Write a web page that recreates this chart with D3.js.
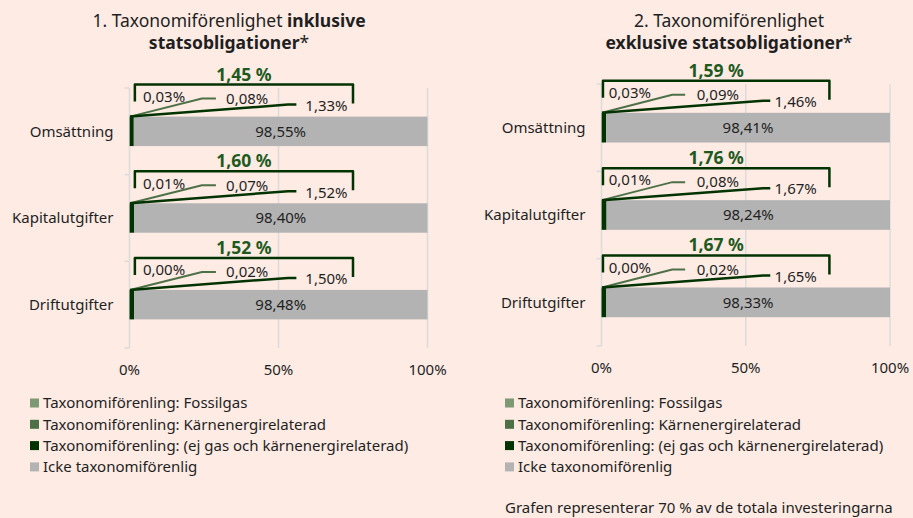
<!DOCTYPE html>
<html>
<head>
<meta charset="utf-8">
<script src="https://cdn.jsdelivr.net/npm/d3@7"></script>
<style>
  body { margin: 0; background: #fdebe4; }
  svg { display: block; font-family: "Noto Sans", sans-serif; }
</style>
</head>
<body>
<div id="chart"></div>
<script>
// Data (percent values)
const categories = ["Omsättning", "Kapitalutgifter", "Driftutgifter"];
const xTicks = [0, 50, 100];

const fossilIncl = [0.03, 0.01, 0.00];
const nuclearIncl = [0.08, 0.07, 0.02];
const otherIncl = [1.33, 1.52, 1.50];
const notAlignedIncl = [98.55, 98.40, 98.48];
const totalIncl = [1.45, 1.60, 1.52];

const fossilExcl = [0.03, 0.01, 0.00];
const nuclearExcl = [0.09, 0.08, 0.02];
const otherExcl = [1.46, 1.67, 1.65];
const notAlignedExcl = [98.41, 98.24, 98.33];
const totalExcl = [1.59, 1.76, 1.67];

const seriesKeys = ["fossil", "nuclear", "other", "notAligned"];
const seriesNames = [
  "Taxonomiförenling: Fossilgas",
  "Taxonomiförenling: Kärnenergirelaterad",
  "Taxonomiförenling: (ej gas och kärnenergirelaterad)",
  "Icke taxonomiförenlig"
];
const colors = ["#7f9874", "#4d7047", "#003300", "#b3b3b3"];
const footnote = "Grafen representerar 70 % av de totala investeringarna";

const width = 913, height = 518;
const textColor = "#1f1f1f";
const fmt = v => v.toFixed(2).replace(".", ",");

const svg = d3.select("#chart").append("svg")
  .attr("width", width)
  .attr("height", height);

svg.append("rect").attr("width", width).attr("height", height).attr("fill", "#fdebe4");

function buildRows(fossil, nuclear, other, notAligned, total) {
  return categories.map((c, i) => ({
    category: c, fossil: fossil[i], nuclear: nuclear[i], other: other[i],
    notAligned: notAligned[i], total: total[i]
  }));
}

function drawPanel(rows, opt) {
  const g = svg.append("g");
  const x = d3.scaleLinear().domain([0, 100]).range(opt.xRange);
  const y = d3.scaleBand().domain(categories).range(opt.yRange)
    .paddingInner(0.66).paddingOuter(0.33);

  // title
  const title = g.append("text")
    .attr("text-anchor", "middle")
    .attr("fill", textColor)
    .style("font-size", "17.5px");
  opt.title.forEach((line, li) => {
    const t = title.append("tspan").attr("x", opt.titleX).attr("y", 27 + li * 22);
    line.forEach(part => {
      t.append("tspan").attr("font-weight", part.bold ? "bold" : "normal").text(part.text);
    });
  });

  // gridlines
  g.selectAll(".grid").data(xTicks).join("line")
    .attr("x1", d => x(d)).attr("x2", d => x(d))
    .attr("y1", opt.yRange[0]).attr("y2", opt.yRange[1])
    .attr("stroke", "#dcdcdc").attr("stroke-width", 1.5);

  // category axis ticks at band boundaries
  const bounds = d3.range(categories.length + 1).map(i => opt.yRange[0] + i * y.step());
  g.selectAll(".ytick").data(bounds).join("line")
    .attr("x1", x(0) - 5).attr("x2", x(0))
    .attr("y1", d => d).attr("y2", d => d)
    .attr("stroke", "#dcdcdc").attr("stroke-width", 1.5);

  // x tick labels
  g.selectAll(".xlab").data(xTicks).join("text")
    .attr("x", d => x(d)).attr("y", opt.yRange[1] + 27)
    .attr("text-anchor", "middle")
    .attr("fill", textColor)
    .style("font-size", "15px")
    .text(d => d + "%");

  // category labels
  g.selectAll(".ylab").data(categories).join("text")
    .attr("x", x(0) - 16)
    .attr("y", d => y(d) + y.bandwidth() / 2)
    .attr("dy", "0.35em")
    .attr("text-anchor", "end")
    .attr("fill", textColor)
    .style("font-size", "15px")
    .text(d => d);

  // stacked bars
  const stacked = d3.stack().keys(seriesKeys)(rows);
  stacked.forEach((layer, k) => {
    g.append("g").attr("fill", colors[k])
      .selectAll("rect").data(layer).join("rect")
      .attr("x", d => x(d[0]))
      .attr("y", d => y(d.data.category))
      .attr("width", d => Math.max(0, x(d[1]) - x(d[0])))
      .attr("height", y.bandwidth());
  });

  // value labels in the grey segment
  const grey = stacked[3];
  g.selectAll(".vlab").data(grey).join("text")
    .attr("x", d => (x(d[0]) + x(d[1])) / 2)
    .attr("y", d => y(d.data.category) + y.bandwidth() / 2)
    .attr("dy", "0.35em")
    .attr("text-anchor", "middle")
    .attr("fill", textColor)
    .style("font-size", "15px")
    .text(d => fmt(d.data.notAligned) + "%");

  // callouts for the small green segments
  const L = opt.labels;
  rows.forEach(r => {
    const top = y(r.category);
    const x0 = x(0) + 0.5;

    // leader lines
    g.append("path")
      .attr("d", `M${x0},${top} L${x(L.midElbow)},${top - 18} L${x(L.midEnd)},${top - 18}`)
      .attr("fill", "none").attr("stroke", colors[1]).attr("stroke-width", 2);
    g.append("path")
      .attr("d", `M${x0},${top} L${x(L.darkElbow)},${top - 12} L${x(L.darkEnd)},${top - 12}`)
      .attr("fill", "none").attr("stroke", colors[2]).attr("stroke-width", 2.5);

    const lab = [[r.fossil, L.l1, -20], [r.nuclear, L.l2, -18], [r.other, L.l3, -11]];
    lab.forEach(([v, px, dy]) => {
      g.append("text")
        .attr("x", x(px)).attr("y", top + dy)
        .attr("dy", "0.35em")
        .attr("fill", textColor)
        .style("font-size", "15px")
        .text(fmt(v) + "%");
    });

    // bracket with total
    const bx0 = x(L.bracketStart), bx1 = x(L.bracketEnd);
    g.append("path")
      .attr("d", `M${bx0},${top - 15} L${bx0},${top - 32} L${bx1},${top - 32} L${bx1},${top - 13}`)
      .attr("fill", "none").attr("stroke", colors[2]).attr("stroke-width", 2.5)
      .attr("stroke-linejoin", "round");
    g.append("text")
      .attr("x", (bx0 + bx1) / 2).attr("y", top - 36)
      .attr("text-anchor", "middle")
      .attr("fill", "#1e5a1e")
      .attr("font-weight", "bold")
      .style("font-size", "17.5px")
      .text(fmt(r.total) + " %");
  });

  // legend
  const leg = g.append("g").attr("transform", `translate(${opt.legendX},403)`);
  seriesNames.forEach((name, i) => {
    leg.append("rect").attr("x", 0).attr("y", i * 21.3 - 4.5)
      .attr("width", 9).attr("height", 9).attr("fill", colors[i]);
    leg.append("text").attr("x", 13).attr("y", i * 21.3)
      .attr("dy", "0.35em")
      .attr("fill", textColor)
      .style("font-size", "15px")
      .text(name);
  });
  return g;
}

drawPanel(buildRows(fossilIncl, nuclearIncl, otherIncl, notAlignedIncl, totalIncl), {
  xRange: [129.5, 427.5], yRange: [88, 348], titleX: 229, legendX: 30,
  title: [
    [{ text: "1. Taxonomiförenlighet " }, { text: "inklusive", bold: true }],
    [{ text: "statsobligationer", bold: true }, { text: "*" }]
  ],
  labels: { l1: 4.5, l2: 32.4, l3: 59, midElbow: 24.3, midEnd: 29, darkElbow: 53.2, darkEnd: 56,
            bracketStart: 1.8, bracketEnd: 75 }
});

drawPanel(buildRows(fossilExcl, nuclearExcl, otherExcl, notAlignedExcl, totalExcl), {
  xRange: [601.5, 890], yRange: [84, 346], titleX: 729, legendX: 505,
  title: [
    [{ text: "2. Taxonomiförenlighet" }],
    [{ text: "exklusive statsobligationer", bold: true }, { text: "*" }]
  ],
  labels: { l1: 2.5, l2: 33, l3: 60, midElbow: 24.5, midEnd: 29, darkElbow: 56, darkEnd: 58.5,
            bracketStart: 0.5, bracketEnd: 79 }
});

svg.append("text")
  .attr("x", 505).attr("y", 508)
  .attr("dy", "0.35em")
  .attr("fill", textColor)
  .style("font-size", "15px")
  .text(footnote);
</script>
</body>
</html>
